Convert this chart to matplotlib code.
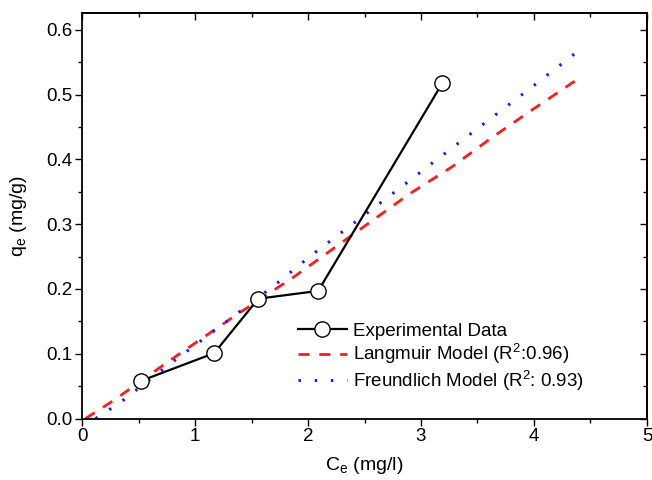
import matplotlib

matplotlib.use("Agg")
import matplotlib.pyplot as plt
from matplotlib.ticker import MultipleLocator

# experimental isotherm points
ce_exp = [0.52, 1.17, 1.56, 2.09, 3.19]
qe_exp = [0.058, 0.101, 0.185, 0.197, 0.518]

# Langmuir fit curve
ce_lang = [0.03, 0.28, 0.78, 1.34, 1.87, 2.90, 3.27, 3.63, 3.98, 4.38]
qe_lang = [0.0, 0.028, 0.090, 0.157, 0.218, 0.347, 0.388, 0.434, 0.476, 0.523]

# Freundlich fit curve
ce_freu = [0.12, 0.34, 0.76, 1.29, 1.72, 2.03, 2.77, 3.09, 3.51, 3.94, 4.36]
qe_freu = [0.0, 0.025, 0.082, 0.151, 0.208, 0.252, 0.350, 0.393, 0.449, 0.506, 0.563]

labels = ["Experimental Data", "Langmuir Model (R$^2$:0.96)", "Freundlich Model (R$^2$: 0.93)"]

plt.rcParams["font.family"] = ["Liberation Sans", "DejaVu Sans"]
plt.rcParams["mathtext.fontset"] = "custom"
plt.rcParams["mathtext.rm"] = "Liberation Sans"

fig = plt.figure(figsize=(6.52, 4.8), dpi=100)
ax = fig.add_axes([0.1258, 0.128, 0.8665, 0.845])

ax.plot(ce_exp, qe_exp, color="black", lw=1.6, marker="o", ms=11,
        mfc="white", mec="black", mew=1.0, label=labels[0], zorder=3)
ax.plot(ce_lang, qe_lang, color="#ff1a1a", lw=2.0, ls=(0, (4, 3.5)), label=labels[1])
ax.plot(ce_freu, qe_freu, color="#1a1aff", lw=2.2, ls=(0, (0.8, 4.5)), label=labels[2])

ax.set_xlim(0, 5)
ax.set_ylim(0, 0.626)
ax.xaxis.set_major_locator(MultipleLocator(1))
ax.xaxis.set_minor_locator(MultipleLocator(0.5))
ax.yaxis.set_major_locator(MultipleLocator(0.1))
ax.yaxis.set_minor_locator(MultipleLocator(0.05))
ax.set_yticks([0.0, 0.1, 0.2, 0.3, 0.4, 0.5, 0.6])
ax.set_yticklabels(["0.0", "0.1", "0.2", "0.3", "0.4", "0.5", "0.6"])

ax.tick_params(which="both", direction="out", width=1.0, labelsize=13.5, top=False, right=False)
ax.tick_params(which="major", length=5)
ax.tick_params(which="minor", length=3)
ax.tick_params(axis="y", pad=2)
ax.tick_params(axis="x", pad=2)

# inward ticks on top and right
sec_x = ax.secondary_xaxis("top")
sec_x.xaxis.set_major_locator(MultipleLocator(1))
sec_x.xaxis.set_minor_locator(MultipleLocator(0.5))
sec_x.tick_params(which="both", direction="in", labeltop=False, width=1.0)
sec_x.tick_params(which="major", length=5)
sec_x.tick_params(which="minor", length=3)
sec_y = ax.secondary_yaxis("right")
sec_y.yaxis.set_major_locator(MultipleLocator(0.1))
sec_y.yaxis.set_minor_locator(MultipleLocator(0.05))
sec_y.tick_params(which="both", direction="in", labelright=False, width=1.0)
sec_y.tick_params(which="major", length=5)
sec_y.tick_params(which="minor", length=3)

for s in ax.spines.values():
    s.set_linewidth(1.3)
sec_x.spines["top"].set_linewidth(1.3)
sec_y.spines["right"].set_linewidth(1.3)

ax.set_xlabel("C$_\\mathregular{e}$ (mg/l)", fontsize=14, labelpad=7)
ax.set_ylabel("q$_\\mathregular{e}$ (mg/g)", fontsize=14, labelpad=12)

ax.legend(loc="upper left", bbox_to_anchor=(0.382, 0.236), frameon=False, fontsize=13.5,
          handlelength=2.6, handletextpad=0.35, labelspacing=0.08,
          borderpad=0.0, borderaxespad=0.0)

fig.savefig("out.png", dpi=100)
